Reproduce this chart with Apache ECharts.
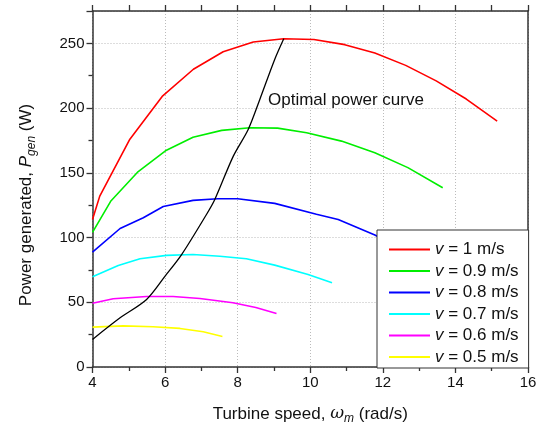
<!DOCTYPE html>
<html>
<head>
<meta charset="utf-8">
<script src="https://cdn.jsdelivr.net/npm/echarts@6/dist/echarts.min.js"></script>
<style>
  html, body { margin: 0; padding: 0; background: #fff; }
  #chart { width: 550px; height: 430px; }
</style>
</head>
<body>
<div id="chart"></div>
<script>
// wind speeds shown in the legend (m/s)
const speeds = ["1", "0.9", "0.8", "0.7", "0.6", "0.5"];
const colors = ["#ff0000", "#00ee00", "#0000ff", "#00ffff", "#ff00ff", "#ffff00"];

// [turbine speed (rad/s), power (W)]
const v10 = [[4, 114], [4.2, 132], [5.03, 176], [5.92, 209], [6.78, 230], [7.6, 243.5], [8.43, 251], [9.27, 253.6],
  [10.1, 253], [10.95, 249], [11.78, 242.5], [12.63, 233], [13.47, 221], [14.3, 207], [15.15, 190]];
const v09 = [[4, 104], [4.5, 128], [5.26, 151], [6.01, 167], [6.77, 177.5], [7.56, 182.8], [8.34, 184.8], [9.1, 184.5],
  [9.9, 181], [10.86, 174.5], [11.78, 165.5], [12.69, 154], [13.65, 138.5]];
const v08 = [[4, 88.7], [4.76, 107], [5.4, 115.3], [5.95, 124], [6.77, 128.7], [7.45, 130], [8.0, 130], [9.02, 126.4],
  [10.17, 118], [10.77, 114], [11.78, 102], [12.12, 97]];
const v07 = [[4, 69.7], [4.71, 78.4], [5.31, 83.6], [6.04, 86.2], [6.77, 86.9], [7.51, 85.6], [8.24, 83.6], [9.02, 78.7],
  [9.94, 71.5], [10.6, 65]];
const v06 = [[4, 49.3], [4.57, 52.7], [5.49, 54.5], [6.22, 54.5], [6.96, 52.9], [7.87, 49.6], [8.5, 46], [9.07, 41.3]];
const v05 = [[4, 30.8], [4.85, 31.8], [5.67, 31.1], [6.41, 29.8], [7.05, 27.2], [7.58, 23.6]];
const optimal = [[4, 21.3], [4.76, 38], [5.49, 52.2], [6.0, 70.2], [6.46, 87], [7.14, 117.8], [7.37, 129.4],
  [7.88, 162.9], [8.29, 183.5], [8.61, 206.7], [9.02, 237.6], [9.27, 253.6]];

const curves = [v10, v09, v08, v07, v06, v05];
const font = "Arial, 'Liberation Sans', sans-serif";
const axisColor = "#333";

var myChart = echarts.init(document.getElementById("chart"));

let series = curves.map(function (d, i) {
  return {
    name: speeds[i],
    type: "line",
    data: d,
    symbol: "none",
    lineStyle: { color: colors[i], width: 1.6 },
    itemStyle: { color: colors[i] },
    z: 3
  };
});
series.push({
  name: "optimal",
  type: "line",
  data: optimal,
  symbol: "none",
  smooth: 0.3,
  lineStyle: { color: "#000", width: 1.3 },
  z: 4
});

let option = {
  animation: false,
  grid: { left: 92.5, right: 22, top: 11, bottom: 62.5 },
  legend: {
    data: speeds,
    orient: "vertical",
    left: 377,
    top: 230,
    padding: [11, 10, 2.5, 12],
    itemGap: 4.5,
    itemWidth: 41,
    itemHeight: 2,
    icon: "rect",
    backgroundColor: "#fff",
    borderColor: "#333",
    borderWidth: 1,
    borderRadius: 0,
    z: 10,
    formatter: function (name) {
      return "{i|v} = " + name + " m/s";
    },
    textStyle: {
      fontFamily: font,
      fontSize: 17,
      color: "#111",
      rich: { i: { fontStyle: "italic", fontFamily: font, fontSize: 17, color: "#111" } }
    }
  },
  xAxis: [
    {
      type: "value",
      min: 4,
      max: 16,
      interval: 2,
      position: "bottom",
      name: "{n|Turbine speed, }{w|ω}{s|m}{n| (rad/s)}",
      nameLocation: "middle",
      nameGap: 36,
      nameTextStyle: {
        rich: {
          n: { fontFamily: font, fontSize: 17, color: "#111" },
          w: { fontFamily: "'DejaVu Serif', serif", fontStyle: "italic", fontSize: 17, color: "#111" },
          s: { fontFamily: font, fontStyle: "italic", fontSize: 12, color: "#111", padding: [10, 0, 0, 0] }
        }
      },
      axisLine: { onZero: false, lineStyle: { color: axisColor, width: 1.5 } },
      axisTick: { inside: false, length: 6, lineStyle: { color: axisColor, width: 1.3 } },
      minorTick: { show: true, splitNumber: 2, length: 4, lineStyle: { color: axisColor, width: 1.3 } },
      axisLabel: { fontFamily: font, fontSize: 15, color: "#111", margin: 8 },
      splitLine: { show: true, lineStyle: { color: "#bbb", type: [1, 2], width: 1 } }
    },
    {
      type: "value",
      min: 4,
      max: 16,
      interval: 2,
      position: "top",
      axisLine: { onZero: false, lineStyle: { color: axisColor, width: 1.5 } },
      axisTick: { inside: false, length: 6, lineStyle: { color: axisColor, width: 1.3 } },
      minorTick: { show: true, splitNumber: 2, length: 6, lineStyle: { color: axisColor, width: 1.3 } },
      axisLabel: { show: false },
      splitLine: { show: false }
    }
  ],
  yAxis: [
    {
      type: "value",
      min: 0,
      max: 275,
      interval: 50,
      name: "{n|Power generated, }{p|P}{s|gen}{n| (W)}",
      nameLocation: "middle",
      nameGap: 55,
      nameTextStyle: {
        padding: [0, 32, 0, 0],
        rich: {
          n: { fontFamily: font, fontSize: 17, color: "#111" },
          p: { fontFamily: font, fontStyle: "italic", fontSize: 17, color: "#111" },
          s: { fontFamily: font, fontStyle: "italic", fontSize: 12, color: "#111", padding: [10, 0, 0, 0] }
        }
      },
      axisLine: { show: true, onZero: false, lineStyle: { color: axisColor, width: 1.5 } },
      axisTick: { show: true, inside: false, length: 6, lineStyle: { color: axisColor, width: 1.3 } },
      minorTick: { show: true, splitNumber: 2, length: 4, lineStyle: { color: axisColor, width: 1.3 } },
      axisLabel: { fontFamily: font, fontSize: 15, color: "#111", margin: 8, showMaxLabel: false },
      splitLine: { show: true, lineStyle: { color: "#bbb", type: [1, 2], width: 1 } }
    },
    {
      type: "value",
      min: 0,
      max: 275,
      position: "right",
      axisLine: { show: true, onZero: false, lineStyle: { color: axisColor, width: 1.5 } },
      axisTick: { show: false },
      axisLabel: { show: false },
      splitLine: { show: false }
    }
  ],
  graphic: [
    {
      type: "text",
      x: 268,
      y: 100,
      z: 20,
      style: {
        text: "Optimal power curve",
        font: "17px " + font,
        fill: "#111",
        verticalAlign: "middle"
      }
    }
  ],
  series: series
};
myChart.setOption(option);
</script>
</body>
</html>
